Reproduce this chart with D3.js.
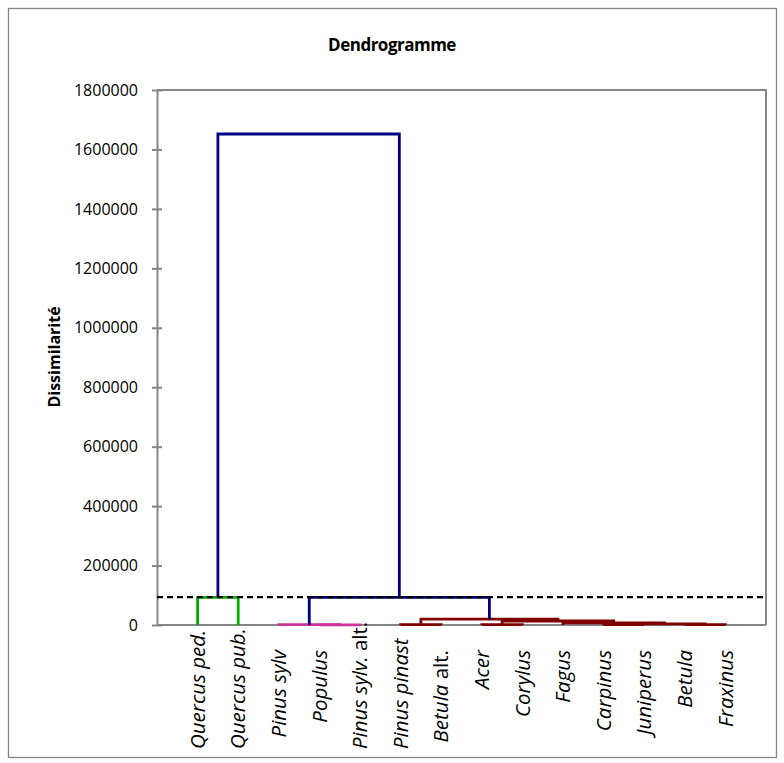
<!DOCTYPE html>
<html>
<head>
<meta charset="utf-8">
<script src="https://cdn.jsdelivr.net/npm/d3@7"></script>
<style>
  html, body { margin: 0; padding: 0; background: #fff; }
  svg { display: block; }
  text { font-family: "Open Sans", "Liberation Sans", sans-serif; fill: #000; }
</style>
</head>
<body>
<svg id="chart" width="784" height="763"></svg>
<script>
// ---------- data ----------
const leaves = ["Quercus ped.", "Quercus pub.", "Pinus sylv", "Populus", "Pinus sylv. alt.",
  "Pinus pinast", "Betula alt.", "Acer", "Corylus", "Fagus", "Carpinus", "Juniperus", "Betula", "Fraxinus"];
// merges: [child a, child b, height]; node ids continue after the leaves (14, 15, ...)
const mergeA = [0, 3, 2, 5, 7, 10, 12, 19, 9, 18, 17, 16, 14];
const mergeB = [1, 4, 15, 6, 8, 11, 13, 20, 21, 22, 23, 24, 25];
const mergeHeight = [93200, 700, 1200, 1500, 1500, 1500, 1000, 3500, 7000, 13500, 19500, 93000, 1652000];
const mergeColor = ["#00B000", "#CC3399", "#CC3399", "#800000", "#800000", "#800000", "#800000",
  "#800000", "#800000", "#800000", "#800000", "#000080", "#000080"];
const truncationLevel = 93500;
const yTicks = [0, 200000, 400000, 600000, 800000, 1000000, 1200000, 1400000, 1600000, 1800000];

// ---------- layout ----------
const svg = d3.select("#chart");
const plot = { left: 157, right: 766, top: 90, bottom: 625 };

svg.append("rect").attr("x", 8.5).attr("y", 8.5).attr("width", 768).attr("height", 749)
  .attr("fill", "#fff").attr("stroke", "#868686").attr("stroke-width", 1.3);

const x = d3.scaleLinear().domain([0, leaves.length + 1]).range([plot.left, plot.right]);
const y = d3.scaleLinear().domain([0, 1800000]).range([plot.bottom, plot.top]);

// title
svg.append("text").attr("x", 392).attr("y", 51).attr("text-anchor", "middle")
  .style("font-weight", "bold").style("font-size", "17px").style("letter-spacing", "-0.5px")
  .text("Dendrogramme");

// plot area frame (top & right)
svg.append("path")
  .attr("d", `M${plot.left},${plot.top}H${plot.right}V${plot.bottom}`)
  .attr("fill", "none").attr("stroke", "#868686").attr("stroke-width", 2);

// y axis
const yAxis = d3.axisLeft(y).tickValues(yTicks).tickFormat(d3.format("d")).tickSizeInner(5).tickSizeOuter(0).tickPadding(14);
const gy = svg.append("g").attr("transform", `translate(${plot.left},0)`).call(yAxis);
gy.select(".domain").attr("stroke", "#868686").attr("stroke-width", 2);
gy.selectAll(".tick line").attr("stroke", "#868686").attr("stroke-width", 2).attr("x1", 5).attr("x2", -5);
gy.selectAll(".tick text").style("font-size", "16px").style("font-family", "'Open Sans', sans-serif").attr("fill", "#000");

// x axis (baseline only)
svg.append("line").attr("x1", plot.left).attr("x2", plot.right)
  .attr("y1", y(0)).attr("y2", y(0)).attr("stroke", "#868686").attr("stroke-width", 2);

// y axis title
svg.append("text").attr("transform", `translate(54,357) rotate(-90)`)
  .attr("text-anchor", "middle").attr("dy", "0.35em")
  .style("font-weight", "bold").style("font-size", "16px").text("Dissimilarité");

// ---------- dendrogram ----------
const nodeX = leaves.map((d, i) => i + 1);
const nodeH = leaves.map(() => 0);
const links = [];
mergeA.forEach((a, k) => {
  const b = mergeB[k];
  const h = mergeHeight[k];
  links.push({ xa: nodeX[a], ha: nodeH[a], xb: nodeX[b], hb: nodeH[b], h, color: mergeColor[k] });
  nodeX.push((nodeX[a] + nodeX[b]) / 2);
  nodeH.push(h);
});

svg.append("g").selectAll("path").data(links).join("path")
  .attr("d", d => `M${x(d.xa)},${y(d.ha)}V${y(d.h)}H${x(d.xb)}V${y(d.hb)}`)
  .attr("fill", "none").attr("stroke", d => d.color).attr("stroke-width", 2.8)
  .attr("stroke-linejoin", "miter").attr("stroke-linecap", "butt");

// truncation line
svg.append("line").attr("x1", plot.left).attr("x2", plot.right)
  .attr("y1", y(truncationLevel)).attr("y2", y(truncationLevel))
  .attr("stroke", "#000").attr("stroke-width", 2.2).attr("stroke-dasharray", "6,4");

// leaf labels
const lbl = svg.append("g").selectAll("text").data(leaves).join("text")
  .attr("text-anchor", "end").attr("dy", "0.35em")
  .style("font-size", "20.5px");
lbl.each(function(d) {
  const t = d3.select(this);
  const suffix = " alt.";
  if (d.endsWith(suffix)) {
    t.append("tspan").style("font-style", "italic").text(d.slice(0, -suffix.length));
    t.append("tspan").text(suffix);
  } else {
    t.append("tspan").style("font-style", "italic").text(d);
  }
});
lbl.attr("transform", function(d, i) {
  const len = this.getComputedTextLength();
  const top = Math.min(650, 749 - len);
  return `translate(${x(i + 1)},${top}) rotate(-90)`;
});
</script>
</body>
</html>
